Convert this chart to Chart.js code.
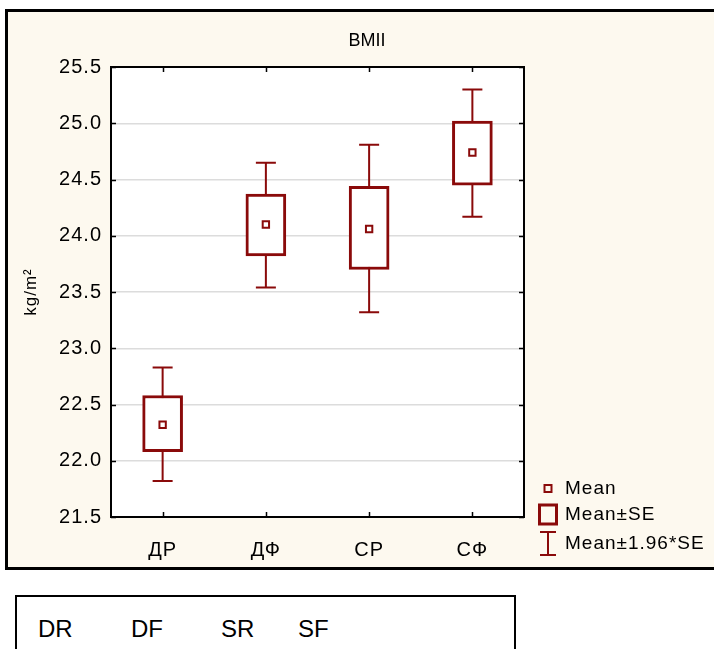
<!DOCTYPE html>
<html>
<head>
<meta charset="utf-8">
<script src="https://cdn.jsdelivr.net/npm/chart.js@4.4.1/dist/chart.umd.min.js"></script>
<style>
  body { margin: 0; background: #fff; width: 714px; height: 649px; overflow: hidden; position: relative; }
  #frame { position: absolute; left: 5px; top: 9px; width: 740px; height: 555px; border: 3px solid #000; background: #fdf9ef; }
  #wrap { position: absolute; left: 0; top: 0; width: 714px; height: 570px; }
  #codes { position: absolute; left: 15px; top: 595px; width: 497px; height: 70px; border: 2px solid #000; background: #fff;
           font-family: 'Liberation Sans Narrow', 'Liberation Sans', sans-serif; font-size: 24px; color: #000; }
  #codes span { position: absolute; top: 18px; }
</style>
</head>
<body>
<div id="frame"></div>
<div id="wrap"><canvas id="chart" width="714" height="570"></canvas></div>
<div id="codes">
  <span style="left:21px">DR</span>
  <span style="left:114px">DF</span>
  <span style="left:204px">SR</span>
  <span style="left:281px">SF</span>
</div>
<script>
// groups and BMI summary values (kg/m2)
const groups = ['ДР', 'ДФ', 'СР', 'СФ'];
const means = [22.32, 24.10, 24.06, 24.74];
const seLow = [22.08, 23.82, 23.70, 24.45];
const seHigh = [22.58, 24.37, 24.44, 25.02];
const ciLow = [21.82, 23.54, 23.32, 24.17];
const ciHigh = [22.83, 24.65, 24.81, 25.30];
const yTicks = [21.5, 22.0, 22.5, 23.0, 23.5, 24.0, 24.5, 25.0, 25.5];

const red = '#8a0a0a';
const font = 'Liberation Sans';

const boxPlot = {
    id: 'boxPlot',
    beforeDraw(chart) {
        const { ctx, chartArea: a } = chart;
        ctx.letterSpacing = '1px';
        ctx.save();
        ctx.fillStyle = '#fff';
        ctx.fillRect(a.left, a.top, a.right - a.left, a.bottom - a.top);
        ctx.restore();
    },
    beforeDatasetsDraw(chart) {
        const { ctx, scales: { x, y } } = chart;
        ctx.save();
        ctx.strokeStyle = red;
        ctx.lineWidth = 2;
        groups.forEach((g, i) => {
            const px = x.getPixelForValue(i);
            const t = y.getPixelForValue(ciHigh[i]);
            const b = y.getPixelForValue(ciLow[i]);
            ctx.beginPath();
            ctx.moveTo(px, t); ctx.lineTo(px, b);
            ctx.moveTo(px - 10, t); ctx.lineTo(px + 10, t);
            ctx.moveTo(px - 10, b); ctx.lineTo(px + 10, b);
            ctx.stroke();
        });
        ctx.restore();
    },
    afterDraw(chart) {
        const { ctx, chartArea: a, scales: { x, y } } = chart;
        ctx.save();
        // frame + inner ticks
        ctx.strokeStyle = '#000';
        ctx.lineWidth = 2;
        ctx.strokeRect(a.left, a.top, a.right - a.left, a.bottom - a.top);
        ctx.lineWidth = 1.5;
        ctx.beginPath();
        yTicks.forEach(v => {
            const py = Math.round(y.getPixelForValue(v)) + 0.5;
            ctx.moveTo(a.left, py); ctx.lineTo(a.left + 5, py);
            ctx.moveTo(a.right - 5, py); ctx.lineTo(a.right, py);
        });
        groups.forEach((g, i) => {
            const px = Math.round(x.getPixelForValue(i)) + 0.5;
            ctx.moveTo(px, a.bottom); ctx.lineTo(px, a.bottom - 5);
            ctx.moveTo(px, a.top); ctx.lineTo(px, a.top + 5);
        });
        ctx.stroke();

        // title
        ctx.fillStyle = '#000';
        ctx.letterSpacing = '0px';
        ctx.font = '18px "' + font + '"';
        ctx.textAlign = 'center';
        ctx.textBaseline = 'middle';
        ctx.fillText('BMII', 367, 41);

        // legend
        const lx = 548;
        ctx.letterSpacing = '1px';
        ctx.font = '19px "' + font + '"';
        ctx.textAlign = 'left';
        ctx.fillText('Mean', 565, 489);
        ctx.fillText('Mean±SE', 565, 515);
        ctx.fillText('Mean±1.96*SE', 565, 544);
        ctx.strokeStyle = red;
        ctx.lineWidth = 2;
        ctx.strokeRect(lx - 3.5, 485, 7, 7);
        ctx.lineWidth = 3;
        ctx.strokeRect(lx - 8.5, 505, 17, 19);
        ctx.lineWidth = 2;
        ctx.beginPath();
        ctx.moveTo(lx, 532); ctx.lineTo(lx, 555);
        ctx.moveTo(lx - 8, 532); ctx.lineTo(lx + 8, 532);
        ctx.moveTo(lx - 8, 555); ctx.lineTo(lx + 8, 555);
        ctx.stroke();
        ctx.restore();
    }
};

new Chart(document.getElementById('chart'), {
    type: 'bar',
    data: {
        labels: groups,
        datasets: [
            {
                label: 'Mean±SE',
                data: groups.map((g, i) => [seLow[i], seHigh[i]]),
                backgroundColor: '#fff',
                borderColor: red,
                borderWidth: 3,
                borderSkipped: false,
                barThickness: 40,
                order: 2
            },
            {
                type: 'line',
                label: 'Mean',
                data: means,
                showLine: false,
                pointStyle: 'rect',
                pointRadius: 4.5,
                pointBorderWidth: 2,
                pointBackgroundColor: '#fff',
                pointBorderColor: red,
                order: 1
            }
        ]
    },
    options: {
        responsive: false,
        animation: false,
        events: [],
        layout: { padding: { top: 67, right: 190, bottom: 0, left: 0 } },
        plugins: { legend: { display: false }, tooltip: { enabled: false }, title: { display: false } },
        scales: {
            x: {
                offset: true,
                grid: { display: false, drawTicks: false },
                border: { display: false },
                ticks: { color: '#000', font: { family: font, size: 20 }, padding: 21 },
                afterFit(s) { s.height = 53; }
            },
            y: {
                min: 21.5,
                max: 25.5,
                afterBuildTicks(s) { s.ticks = yTicks.map(v => ({ value: v })); },
                grid: { color: '#dcdcdc', drawTicks: false, lineWidth: 1.5 },
                border: { display: false },
                ticks: { color: '#000', font: { family: font, size: 20 }, padding: 9, callback: v => v.toFixed(1) },
                title: { display: true, text: 'kg/m²', color: '#000', font: { family: font, size: 17 }, padding: { top: 21, bottom: 0 } },
                afterFit(s) { s.width = 111; }
            }
        }
    },
    plugins: [boxPlot]
});
</script>
</body>
</html>
